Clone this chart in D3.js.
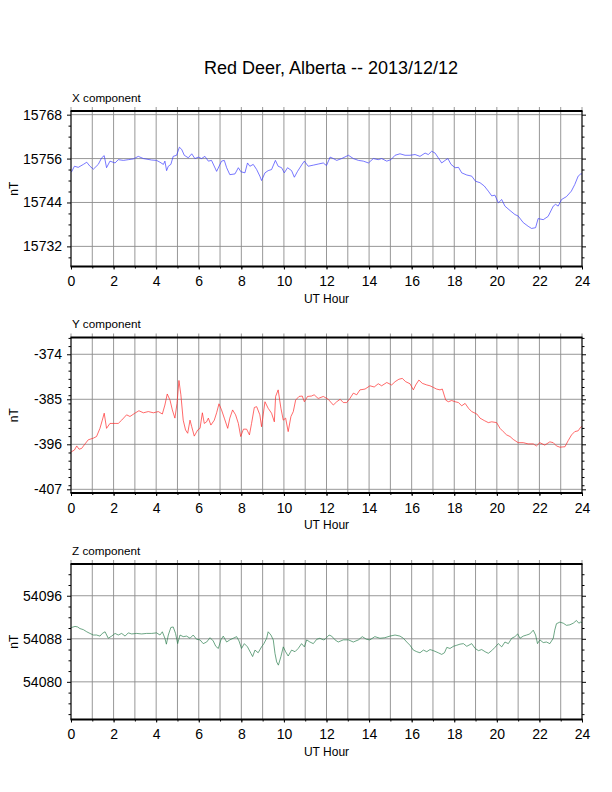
<!DOCTYPE html>
<html>
<head>
<meta charset="utf-8">
<script src="https://cdn.jsdelivr.net/npm/d3@7"></script>
<style>
  body { margin: 0; background: #fff; }
  svg { font-family: "Liberation Sans", Arial, Helvetica, sans-serif; }
  .tick text { font-size: 14px; fill: #000; }
  .tick line { stroke: #000; }
  .grid line { stroke: #8c8c8c; stroke-width: 0.9; }
</style>
</head>
<body>
<div id="chart"></div>
<script>
// hour ticks
const HOUR_LABELS = [0, 2, 4, 6, 8, 10, 12, 14, 16, 18, 20, 22, 24];
const HOURS_ALL = [0,1,2,3,4,5,6,7,8,9,10,11,12,13,14,15,16,17,18,19,20,21,22,23,24];

// X component (nT), [UT hour, value]
const xComponent = [
  [0,15752.4],[0.03,15752.4],[0.16,15753.9],[0.34,15753.6],[0.58,15754.4],[0.74,15755],[0.89,15753.9],
  [1.05,15753.1],[1.28,15754.4],[1.44,15756.2],[1.56,15756.8],[1.67,15753.5],[1.83,15755.3],[2.07,15754.8],
  [2.22,15755.7],[2.46,15755.5],[2.69,15755.7],[2.93,15755.9],[3.16,15756.6],[3.4,15756],[3.79,15755.6],
  [4.02,15755.5],[4.18,15755],[4.34,15754.4],[4.41,15755.3],[4.49,15752.7],[4.57,15753.9],[4.69,15754.4],
  [4.8,15756.6],[4.96,15756.9],[5.09,15759.1],[5.2,15758.5],[5.32,15756.9],[5.51,15756.2],[5.67,15757.3],
  [5.82,15756],[5.98,15756.4],[6.13,15756],[6.29,15756.6],[6.45,15755.3],[6.6,15755.5],[6.84,15752.5],
  [7.07,15755.3],[7.2,15755.5],[7.31,15753.5],[7.46,15751.6],[7.7,15751.8],[7.86,15753.5],[7.98,15752.4],
  [8.17,15752.1],[8.29,15754.8],[8.4,15753.9],[8.56,15754.4],[8.72,15753],[8.87,15751.2],[8.95,15750],
  [9.11,15752.1],[9.26,15752.7],[9.42,15753],[9.6,15755.5],[9.73,15753.9],[9.89,15753.5],[10.02,15752.1],
  [10.17,15753.5],[10.36,15752.7],[10.49,15750.9],[10.64,15752.5],[10.86,15754.5],[10.96,15755.3],
  [11.14,15753.9],[11.38,15754.2],[11.61,15754.5],[11.85,15754.8],[11.93,15754.4],[12.0,15754.1],
  [12.17,15756.4],[12.32,15756],[12.48,15755.5],[12.71,15756],[13.03,15756.9],[13.26,15756],[13.5,15755.5],
  [13.73,15755.3],[13.97,15754.8],[14.2,15756],[14.43,15755.7],[14.59,15756],[14.83,15755.3],[15.03,15755.7],
  [15.22,15756.9],[15.45,15757.3],[15.69,15756.9],[15.92,15756.9],[16.16,15757.1],[16.39,15756.6],
  [16.63,15757.5],[16.78,15757.1],[16.94,15758],[17.1,15757.5],[17.25,15756.2],[17.41,15754.8],
  [17.57,15755.5],[17.7,15756],[17.85,15754.4],[18.04,15753.5],[18.2,15753.6],[18.35,15752.1],
  [18.59,15751.5],[18.82,15751.2],[19.0,15749.8],[19.21,15749.4],[19.41,15748.5],[19.6,15747.1],
  [19.76,15745.8],[19.91,15746],[20.07,15743.9],[20.23,15744.8],[20.38,15743],[20.62,15741.8],
  [20.85,15740.7],[21.0,15740.3],[21.24,15738.5],[21.47,15737.5],[21.63,15736.9],[21.82,15737.1],
  [21.94,15739.6],[22.18,15739.3],[22.41,15740.2],[22.65,15743],[22.76,15743.5],[22.88,15743],
  [23.04,15744.8],[23.27,15745.6],[23.5,15747.1],[23.66,15748.9],[23.82,15751.2],[23.94,15751.8],[24,15751.8]
];

// Y component (nT)
const yComponent = [
  [0,-397.8],[0.03,-397.8],[0.16,-397.4],[0.27,-396.4],[0.38,-397.2],[0.5,-397],[0.66,-395.9],[0.81,-394.9],
  [1.05,-394.5],[1.2,-394.1],[1.36,-392.1],[1.47,-390.1],[1.56,-388.4],[1.67,-392.1],[1.83,-390.9],
  [2.07,-390.9],[2.22,-390.9],[2.38,-390.1],[2.61,-388.8],[2.77,-389.2],[3.0,-388.4],[3.19,-387.8],
  [3.4,-388.3],[3.63,-388],[3.87,-388.3],[4.1,-388],[4.29,-388.6],[4.41,-386.4],[4.52,-383.7],[4.65,-385.2],
  [4.76,-387.6],[4.88,-389.6],[4.98,-386],[5.07,-380.4],[5.16,-383.9],[5.27,-390.1],[5.38,-392.5],
  [5.48,-393.3],[5.59,-390.1],[5.67,-391.7],[5.79,-394],[5.95,-392.5],[6.06,-392.1],[6.17,-388.3],
  [6.26,-390.9],[6.37,-390.5],[6.45,-389.6],[6.57,-391.3],[6.73,-390.1],[6.84,-388.3],[6.95,-386.1],
  [7.07,-387.6],[7.2,-389.6],[7.36,-392.1],[7.46,-389.6],[7.59,-387.6],[7.73,-388.8],[7.86,-390.9],
  [7.97,-394.1],[8.1,-392.3],[8.25,-392.3],[8.38,-393.7],[8.48,-390.9],[8.61,-387],[8.72,-386.8],
  [8.87,-388.8],[8.95,-391.7],[9.11,-385.6],[9.26,-387.2],[9.42,-388.4],[9.55,-390.5],[9.61,-384.3],
  [9.73,-382.7],[9.86,-387.2],[9.97,-390.1],[10.08,-389.6],[10.2,-392.9],[10.33,-389.2],[10.44,-388],
  [10.55,-385.2],[10.71,-384.3],[10.86,-384.2],[10.96,-385.6],[11.11,-384.3],[11.3,-384.2],[11.42,-383.9],
  [11.61,-384.8],[11.85,-384.3],[12.08,-385],[12.32,-386.4],[12.48,-385.6],[12.64,-385],[12.79,-385.8],
  [12.95,-385.8],[13.1,-384.8],[13.26,-383.5],[13.42,-383.9],[13.57,-382.7],[13.81,-382.5],[14.04,-381.7],
  [14.24,-382],[14.43,-381.2],[14.59,-381.7],[14.83,-380.9],[15.06,-381.5],[15.22,-380.7],[15.4,-380.1],
  [15.56,-379.9],[15.72,-380.7],[15.92,-381.2],[16.08,-382.7],[16.19,-381.5],[16.34,-380.3],[16.5,-381.1],
  [16.71,-381.5],[16.86,-381.7],[17.02,-382.1],[17.17,-382.5],[17.33,-382.7],[17.44,-382.5],[17.6,-385.2],
  [17.72,-385.6],[17.88,-385.3],[18.04,-385.6],[18.2,-385.8],[18.35,-386.6],[18.51,-386],[18.67,-387.2],
  [18.82,-388],[19.06,-388.6],[19.21,-389.6],[19.41,-390.2],[19.6,-390.7],[19.76,-390.5],[19.99,-390.7],
  [20.15,-392.1],[20.3,-392.9],[20.46,-393.7],[20.62,-394.1],[20.77,-394.8],[21.0,-395.6],[21.24,-395.6],
  [21.47,-395.9],[21.71,-395.9],[21.86,-396.4],[22.02,-395.6],[22.25,-396.2],[22.49,-395.4],[22.65,-395.6],
  [22.8,-396.4],[22.96,-396.7],[23.2,-396.6],[23.35,-395.1],[23.51,-393.7],[23.66,-392.9],[23.82,-392.7],
  [23.94,-391.8],[24,-391.6]
];

// Z component (nT)
const zComponent = [
  [0,54090.1],[0.03,54090.1],[0.19,54090.3],[0.31,54090.2],[0.42,54089.9],[0.58,54089.7],[0.74,54089.3],
  [0.89,54089],[1.05,54088.7],[1.2,54088.7],[1.36,54088.5],[1.47,54089],[1.6,54089.3],[1.75,54088.1],
  [1.91,54088.5],[2.07,54089],[2.22,54088.7],[2.38,54089],[2.54,54088.5],[2.69,54089.1],[2.85,54088.9],
  [3.08,54089],[3.32,54088.9],[3.55,54089],[3.79,54089],[4.02,54089.1],[4.18,54088.7],[4.29,54089.3],
  [4.41,54088.1],[4.48,54087],[4.57,54088.7],[4.69,54090.1],[4.8,54090.2],[4.91,54089],[5.01,54087.1],
  [5.12,54088.7],[5.27,54088.4],[5.43,54088.5],[5.59,54088.1],[5.74,54088.7],[5.9,54087.9],[6.06,54087.8],
  [6.21,54087.1],[6.37,54087.4],[6.53,54088.2],[6.68,54087.6],[6.8,54086.6],[6.92,54086.2],[7.04,54087.8],
  [7.15,54088.5],[7.31,54087.4],[7.46,54087.8],[7.62,54088.1],[7.78,54088.4],[7.89,54087.6],[8.01,54086.2],
  [8.14,54087.1],[8.29,54086.5],[8.45,54085.3],[8.53,54084.7],[8.64,54085.9],[8.79,54085.4],[8.95,54086.5],
  [9.06,54087.1],[9.19,54088.1],[9.26,54089.3],[9.39,54088.7],[9.5,54087.8],[9.58,54085.3],[9.66,54083.7],
  [9.74,54083.1],[9.86,54084.7],[9.97,54086.5],[10.08,54085.6],[10.2,54084.8],[10.36,54085.9],[10.52,54085.6],
  [10.67,54086.2],[10.83,54087.1],[10.96,54086.5],[11.07,54087.8],[11.22,54087.4],[11.38,54087.1],
  [11.54,54087.9],[11.69,54088.1],[11.85,54087.8],[11.93,54087.9],[12.12,54088.7],[12.24,54088.5],
  [12.4,54087.8],[12.55,54087.4],[12.79,54087.8],[13.03,54087.8],[13.26,54087.4],[13.5,54087.8],
  [13.68,54088.4],[13.88,54087.9],[14.04,54087.8],[14.27,54088.4],[14.51,54088.1],[14.74,54088.2],
  [14.98,54088.5],[15.22,54088.7],[15.45,54088.5],[15.61,54088.1],[15.77,54087.4],[15.92,54086.8],
  [16.08,54085.9],[16.24,54085.6],[16.39,54085.4],[16.55,54085.9],[16.71,54085.6],[16.86,54086],
  [17.02,54085.8],[17.25,54085.4],[17.41,54085.1],[17.54,54085.4],[17.65,54086.4],[17.8,54086.2],
  [17.96,54086.6],[18.12,54086.8],[18.27,54087],[18.43,54087.1],[18.59,54086.6],[18.82,54087.1],
  [18.98,54086.2],[19.14,54085.8],[19.29,54086],[19.45,54085.6],[19.6,54085.3],[19.76,54085.8],
  [19.91,54086.4],[20.07,54087.1],[20.23,54086.5],[20.38,54087.4],[20.54,54087.1],[20.7,54088.1],
  [20.85,54088.4],[20.98,54088.9],[21.09,54088.1],[21.24,54088.5],[21.4,54088.7],[21.55,54088.9],
  [21.71,54089.6],[21.82,54088.7],[21.91,54087.1],[22.02,54087.8],[22.18,54087.3],[22.33,54087.4],
  [22.49,54087.1],[22.65,54088.1],[22.72,54089.6],[22.8,54090.8],[22.96,54091.1],[23.12,54090.9],
  [23.27,54090.5],[23.43,54090.6],[23.59,54090.9],[23.74,54091.4],[23.85,54090.9],[23.94,54091.1],[24,54091]
];

const xMajor = [15732, 15744, 15756, 15768];
const yMajor = [-407, -396, -385, -374];
const zMajor = [54080, 54088, 54096];

/* ---------------------------------- */
const W = 612, H = 792;
const PLOT_L = 71, PLOT_R = 582, PANEL_H = 155.5;

const svg = d3.select("#chart").append("svg")
  .attr("width", W).attr("height", H);

svg.append("text")
   .attr("x", 331).attr("y", 74)
   .attr("text-anchor", "middle")
   .style("font-size", "18px")
   .text("Red Deer, Alberta -- 2013/12/12");

const xScale = d3.scaleLinear().domain([0, 24]).range([PLOT_L, PLOT_R]);

// plain hyphen for negatives, like the original plot
const plainInt = (d) => String(d);

function drawPanel(top, data, domain, major, minorStep, colour, title) {
  const y = d3.scaleLinear().domain(domain).range([top + PANEL_H, top]);
  const minor = d3.range(Math.ceil(domain[0] / minorStep) * minorStep, domain[1], minorStep)
                  .filter((v) => major.indexOf(v) < 0);
  const g = svg.append("g");

  // grid
  const grid = g.append("g").classed("grid", true);
  grid.selectAll("line.v").data(HOURS_ALL).enter().append("line")
      .attr("x1", (d) => xScale(d)).attr("x2", (d) => xScale(d))
      .attr("y1", top - 4).attr("y2", top + PANEL_H);
  grid.selectAll("line.h").data(major).enter().append("line")
      .attr("x1", PLOT_L).attr("x2", PLOT_R)
      .attr("y1", (d) => y(d)).attr("y2", (d) => y(d));

  // series
  g.append("path")
   .datum(data)
   .attr("fill", "none")
   .attr("stroke", colour)
   .attr("stroke-width", 0.7)
   .attr("d", d3.line().x((d) => xScale(d[0])).y((d) => y(d[1])));

  // axes
  const noLabel = () => "";
  g.append("g").attr("transform", "translate(" + PLOT_L + ",0)")
   .call(d3.axisLeft(y).tickValues(major).tickSize(4).tickPadding(5).tickFormat(plainInt));
  g.append("g").attr("transform", "translate(" + PLOT_L + ",0)")
   .call(d3.axisLeft(y).tickValues(minor).tickSize(2.5).tickFormat(noLabel));
  g.append("g").attr("transform", "translate(" + PLOT_R + ",0)")
   .call(d3.axisRight(y).tickValues(major).tickSize(4).tickFormat(noLabel));
  g.append("g").attr("transform", "translate(" + PLOT_R + ",0)")
   .call(d3.axisRight(y).tickValues(minor).tickSize(2.5).tickFormat(noLabel));
  g.append("g").attr("transform", "translate(0," + (top + PANEL_H) + ")")
   .call(d3.axisBottom(xScale).tickValues(HOUR_LABELS).tickSize(3).tickPadding(7).tickFormat(plainInt));
  g.append("g").attr("transform", "translate(0," + (top + PANEL_H) + ")")
   .call(d3.axisBottom(xScale).tickValues(HOURS_ALL).tickSize(2).tickFormat(noLabel));
  g.selectAll(".domain").remove();

  // frame
  g.append("line").attr("x1", PLOT_L).attr("x2", PLOT_L).attr("y1", top).attr("y2", top + PANEL_H)
   .attr("stroke", "#000").attr("stroke-width", 1);
  g.append("line").attr("x1", PLOT_R).attr("x2", PLOT_R).attr("y1", top).attr("y2", top + PANEL_H)
   .attr("stroke", "#000").attr("stroke-width", 1);
  g.append("line").attr("x1", PLOT_L - 0.5).attr("x2", PLOT_R + 0.5).attr("y1", top).attr("y2", top)
   .attr("stroke", "#000").attr("stroke-width", 2);
  g.append("line").attr("x1", PLOT_L - 0.5).attr("x2", PLOT_R + 0.5).attr("y1", top + PANEL_H).attr("y2", top + PANEL_H)
   .attr("stroke", "#000").attr("stroke-width", 2);

  // labels
  g.append("text").attr("x", 72).attr("y", top - 9.5)
   .style("font-size", "11.7px").text(title);
  g.append("text")
   .attr("transform", "translate(18," + (top + PANEL_H / 2) + ") rotate(-90)")
   .attr("text-anchor", "middle")
   .style("font-size", "12px").text("nT");
  g.append("text").attr("x", (PLOT_L + PLOT_R) / 2).attr("y", top + PANEL_H + 36)
   .attr("text-anchor", "middle")
   .style("font-size", "12px").text("UT Hour");
}

drawPanel(111, xComponent, [15726.5, 15769], xMajor, 3, "#3d3dff", "X component");
drawPanel(337.5, yComponent, [-407.9, -369.9], yMajor, 2, "#ff2a2a", "Y component");
drawPanel(564, zComponent, [54073, 54101.9], zMajor, 2, "#2e8050", "Z component");
</script>
</body>
</html>
